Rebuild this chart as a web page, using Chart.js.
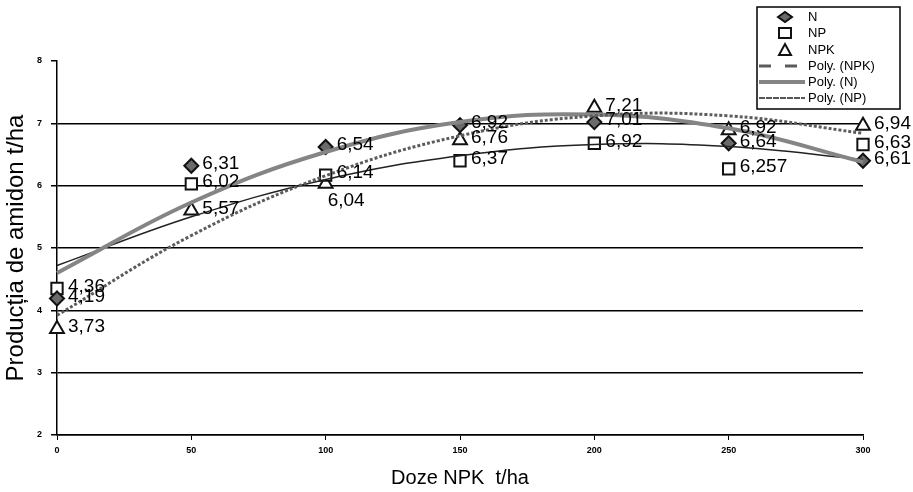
<!DOCTYPE html>
<html>
<head>
<meta charset="utf-8">
<script src="https://cdn.jsdelivr.net/npm/chart.js@4"></script>
<style>
  html, body { margin: 0; padding: 0; background: #fff; }
  #wrap { width: 913px; height: 492px; position: relative; }
</style>
</head>
<body>
<div id="wrap"><canvas id="chart"></canvas></div>
<script>
// Doses of NPK (x axis)
const doses = [0, 50, 100, 150, 200, 250, 300];

const nValues   = [4.19, 6.32, 6.62, 6.97, 7.02, 6.68, 6.40];
const npValues  = [4.35, 6.03, 6.17, 6.40, 6.68, 6.27, 6.66];
const npkValues = [3.70, 5.60, 6.03, 6.73, 7.25, 6.89, 6.96];

// Text printed next to each point (as written in the figure)
const nLabels   = ['4,19', '6,31', '6,54', '6,92', '7,01', '6,64', '6,61'];
const npLabels  = ['4,36', '6,02', '6,14', '6,37', '6,92', '6,257', '6,63'];
const npkLabels = ['3,73', '5,57', '6,04', '6,76', '7,21', '6,92', '6,94'];

// Polynomial trend lines at each dose
const nTrend   = [4.60, 5.73, 6.54, 7.02, 7.14, 6.92, 6.38];
const npTrend  = [4.72, 5.50, 6.10, 6.48, 6.66, 6.63, 6.42];
const npkTrend = [3.92, 5.20, 6.16, 6.80, 7.12, 7.12, 6.84];

const FONT = '"Liberation Sans", Arial, sans-serif';
const pts = vals => doses.map((d, i) => ({ x: d, y: vals[i] }));

// value labels to the right of each marker
const valueLabels = {
  id: 'valueLabels',
  afterDatasetsDraw(chart) {
    const ctx = chart.ctx;
    ctx.save();
    ctx.font = '19px ' + FONT;
    ctx.fillStyle = '#000';
    ctx.textBaseline = 'middle';
    chart.data.datasets.forEach((ds, i) => {
      if (!ds.pointText) return;
      chart.getDatasetMeta(i).data.forEach((pt, j) => {
        let dx = 11, dy = -2;
        if (ds.label === 'NPK' && j === 2) { dx = 2; dy = 17; } // 6,04 sits under its triangle
        ctx.fillText(ds.pointText[j], pt.x + dx, pt.y + dy);
      });
    });
    ctx.restore();
  }
};

// boxed legend in the top right corner
const boxLegend = {
  id: 'boxLegend',
  afterDraw(chart) {
    const ctx = chart.ctx;
    const bx = 757, by = 7, bw = 143, bh = 102;
    ctx.save();
    ctx.fillStyle = '#fff';
    ctx.fillRect(bx, by, bw, bh);
    ctx.strokeStyle = '#000';
    ctx.lineWidth = 1.5;
    ctx.strokeRect(bx, by, bw, bh);
    ctx.font = '13px ' + FONT;
    ctx.textBaseline = 'middle';
    const rows = [17, 33, 50, 66, 82, 98];
    const mx = 785, tx = 808;
    chart.data.datasets.forEach((ds, i) => {
      const y = rows[i];
      ctx.save();
      if (ds.pointStyle && !ds.showLine) {
        drawMarker(ctx, ds.pointStyle, mx, y, 6, ds.pointBackgroundColor, ds.pointBorderColor);
      } else {
        ctx.strokeStyle = ds.borderColor;
        ctx.lineWidth = ds.borderWidth;
        ctx.setLineDash(ds.legendDash || []);
        ctx.beginPath();
        ctx.moveTo(bx + 2, y);
        ctx.lineTo(tx - 3, y);
        ctx.stroke();
      }
      ctx.restore();
      ctx.fillStyle = '#000';
      ctx.fillText(ds.label, tx, y);
    });
    ctx.restore();
  }
};

function drawMarker(ctx, style, x, y, r, fill, stroke) {
  ctx.beginPath();
  if (style === 'rectRot') {
    ctx.moveTo(x - r - 1, y); ctx.lineTo(x, y - r + 1); ctx.lineTo(x + r + 1, y); ctx.lineTo(x, y + r - 1);
  } else if (style === 'rect') {
    ctx.rect(x - r, y - r + 1, 2 * r, 2 * r - 2);
  } else {
    ctx.moveTo(x, y - r); ctx.lineTo(x + r, y + r - 1); ctx.lineTo(x - r, y + r - 1);
  }
  ctx.closePath();
  ctx.fillStyle = fill;
  ctx.fill();
  ctx.strokeStyle = stroke;
  ctx.lineWidth = 2;
  ctx.stroke();
}

const markerSet = (label, vals, text, style, fill, radius) => ({
  label, data: pts(vals), pointText: text,
  pointStyle: style, pointRadius: radius, pointHoverRadius: radius,
  pointBackgroundColor: fill, pointBorderColor: '#111', pointBorderWidth: 2,
  showLine: false, clip: false, order: 2
});

const trendSet = (label, vals, color, width, dash, legendDash) => ({
  label, data: pts(vals), showLine: true, pointRadius: 0,
  borderColor: color, borderWidth: width, borderDash: dash, legendDash,
  tension: 0.4, fill: false, clip: false, order: 1
});

new Chart(document.getElementById('chart'), {
  type: 'scatter',
  data: {
    datasets: [
      markerSet('N', nValues, nLabels, 'rectRot', '#6a6a6a', 7),
      markerSet('NP', npValues, npLabels, 'rect', '#fff', 8),
      markerSet('NPK', npkValues, npkLabels, 'triangle', '#fff', 8),
      trendSet('Poly. (NPK)', npkTrend, '#5c5c5c', 3, [3, 2], [12, 14]),
      trendSet('Poly. (N)', nTrend, '#858585', 4, [], []),
      trendSet('Poly. (NP)', npTrend, '#222', 1.5, [], [6, 1])
    ]
  },
  options: {
    responsive: true,
    maintainAspectRatio: false,
    animation: false,
    devicePixelRatio: 1,
    layout: { padding: { top: 61, right: 50, left: 0, bottom: 0 } },
    plugins: { legend: { display: false }, tooltip: { enabled: false } },
    scales: {
      x: {
        type: 'linear', min: 0, max: 300,
        ticks: { stepSize: 50, color: '#000', font: { family: FONT, size: 9, weight: 'bold' }, padding: 5 },
        grid: { drawOnChartArea: false, tickLength: 5, color: '#000', tickColor: '#000' },
        border: { color: '#000', width: 1.5 },
        title: { display: true, text: 'Doze NPK  t/ha', color: '#000', font: { family: FONT, size: 20 }, padding: { top: 2, bottom: 2 } },
        afterFit: s => { s.height = 57; }
      },
      y: {
        min: 2, max: 8,
        ticks: { stepSize: 1, color: '#000', font: { family: FONT, size: 9, weight: 'bold' }, padding: 9 },
        grid: {
          color: c => (c.tick && c.tick.value === 8 ? 'rgba(0,0,0,0)' : '#000'),
          lineWidth: 1.5, tickLength: 6, tickColor: '#000'
        },
        border: { color: '#000', width: 1.5 },
        title: { display: true, text: 'Producția de amidon t/ha', color: '#000', font: { family: FONT, size: 24 }, padding: { top: 2, bottom: 2 } },
        afterFit: s => { s.width = 57; }
      }
    }
  },
  plugins: [valueLabels, boxLegend]
});
</script>
</body>
</html>
